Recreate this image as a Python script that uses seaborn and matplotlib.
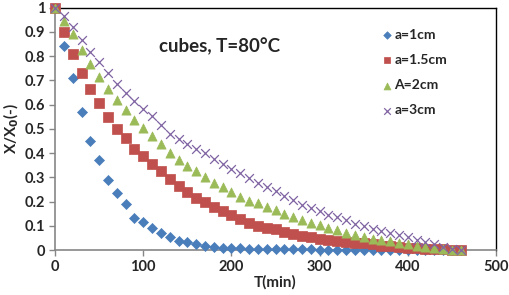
import pandas as pd
import matplotlib
matplotlib.use("Agg")
import matplotlib.pyplot as plt
import seaborn as sns

# time axis (min)
t_min = list(range(0, 470, 10))

# X/X0 for each cube size
a_1cm = [1, 0.84, 0.71, 0.57, 0.45, 0.37, 0.29, 0.237, 0.19, 0.133,
         0.114, 0.09, 0.071, 0.052, 0.038, 0.031, 0.023, 0.018, 0.012, 0.009,
         0.008, 0.007, 0.004, 0.004, 0.004, 0.004, 0.003, 0.003, 0.003, 0.003,
         0.002, 0.002, 0.002, 0.002, 0.002, 0.001, 0.001, 0.001, 0.001, 0.001,
         0.001, 0.001, 0.0, 0.0, 0.0, 0.0, 0.0]
a_15cm = [1, 0.90, 0.81, 0.73, 0.662, 0.606, 0.55, 0.50, 0.46, 0.416,
          0.386, 0.355, 0.324, 0.292, 0.264, 0.238, 0.215, 0.196, 0.177, 0.16,
          0.145, 0.128, 0.113, 0.101, 0.092, 0.086, 0.076, 0.067, 0.058, 0.052,
          0.047, 0.042, 0.038, 0.034, 0.030, 0.027, 0.023, 0.018, 0.015, 0.012,
          0.010, 0.008, 0.006, 0.004, 0.003, 0.001, 0.0]
a_2cm = [1, 0.943, 0.889, 0.825, 0.768, 0.713, 0.664, 0.617, 0.576, 0.537,
         0.503, 0.471, 0.438, 0.402, 0.372, 0.347, 0.324, 0.30, 0.278, 0.259,
         0.241, 0.22, 0.204, 0.193, 0.176, 0.166, 0.149, 0.136, 0.124, 0.113,
         0.103, 0.091, 0.083, 0.071, 0.062, 0.055, 0.047, 0.042, 0.036, 0.03,
         0.025, 0.017, 0.011, 0.007, 0.004, 0.002, 0.0]
a_3cm = [1, 0.964, 0.918, 0.865, 0.817, 0.777, 0.73, 0.686, 0.648, 0.616,
         0.581, 0.551, 0.517, 0.478, 0.456, 0.438, 0.418, 0.40, 0.377, 0.356,
         0.336, 0.316, 0.295, 0.277, 0.26, 0.243, 0.223, 0.205, 0.187, 0.173,
         0.162, 0.146, 0.135, 0.122, 0.108, 0.097, 0.086, 0.078, 0.071, 0.062,
         0.052, 0.042, 0.034, 0.025, 0.014, 0.004, 0.0]

labels = ['a=1cm', 'a=1.5cm', 'A=2cm', 'a=3cm']
colors = ['#4A7EBB', '#C0504D', '#9BBB59', '#8064A2']
markers = ['D', 's', '^', 'x']
sizes = [26, 42, 44, 40]

rows = []
for lab, vals in zip(labels, [a_1cm, a_15cm, a_2cm, a_3cm]):
    for t, v in zip(t_min, vals):
        rows.append({'T': t, 'X': v, 'size': lab})
df = pd.DataFrame(rows)

sns.set_style("white")
plt.rcParams['font.family'] = ['Lato', 'DejaVu Sans']
plt.rcParams['font.weight'] = 'bold'

fig = plt.figure(figsize=(5.1, 2.95), dpi=100)
ax = fig.add_axes([0.108, 0.1525, 0.8645, 0.822])

for lab, col, mk, sz in zip(labels, colors, markers, sizes):
    sub = df[df['size'] == lab]
    if mk == 'x':
        sns.scatterplot(x='T', y='X', data=sub, ax=ax, marker=mk, s=sz,
                        color=col, linewidth=0.9, label=lab, clip_on=False, zorder=3)
    else:
        sns.scatterplot(x='T', y='X', data=sub, ax=ax, marker=mk, s=sz,
                        color=col, edgecolor=col, linewidth=0.5, label=lab,
                        clip_on=False, zorder=3)

ax.set_xlim(0, 500)
ax.set_ylim(0, 1)
ax.set_xticks(range(0, 501, 100))
ax.set_yticks([i / 10 for i in range(11)])
ax.set_yticklabels(['0', '0.1', '0.2', '0.3', '0.4', '0.5', '0.6', '0.7', '0.8', '0.9', '1'])

ax.tick_params(axis='both', direction='out', length=4, width=1, color='#868686',
               labelsize=10.5, pad=3, bottom=True, left=True)
for lbl in ax.get_xticklabels() + ax.get_yticklabels():
    lbl.set_fontweight('bold')

for side in ['left', 'bottom']:
    ax.spines[side].set_color('#868686')
    ax.spines[side].set_linewidth(1.2)
for side in ['top', 'right']:
    ax.spines[side].set_color('black')
    ax.spines[side].set_linewidth(1)

ax.set_xlabel('T(min)', fontsize=11, fontweight='bold', labelpad=1)
ax.set_ylabel('X/X$_\\mathbf{0}$(-)', fontsize=11, fontweight='bold', labelpad=3)

ax.text(0.235, 0.84, 'cubes, T=80°C', transform=ax.transAxes, fontsize=13.5,
        fontweight='bold', va='center', ha='left')

leg = ax.legend(loc='upper left', bbox_to_anchor=(0.725, 0.935), frameon=False,
                fontsize=10, labelspacing=0.95, handletextpad=0.0,
                handlelength=1.0, borderaxespad=0, markerscale=0.75)
for txt in leg.get_texts():
    txt.set_fontweight('bold')

fig.savefig('out.png', dpi=100)
